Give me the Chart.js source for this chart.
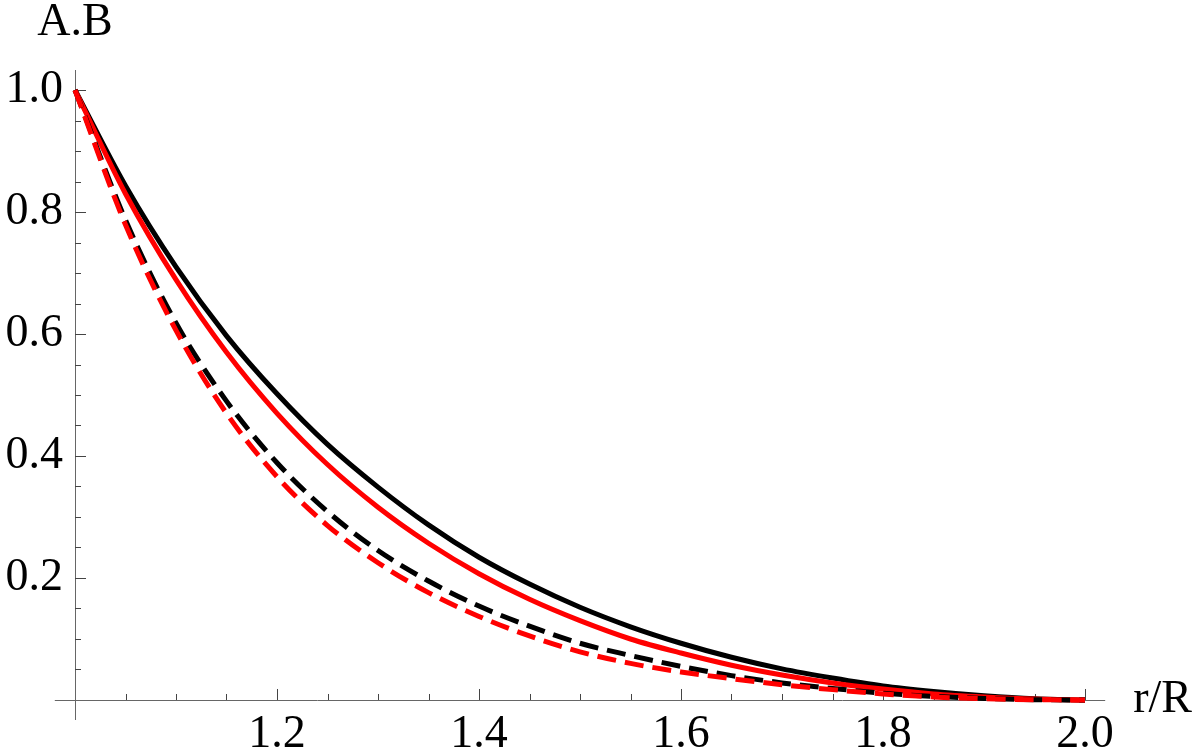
<!DOCTYPE html>
<html>
<head>
<meta charset="utf-8">
<script src="https://cdn.jsdelivr.net/npm/chart.js@4.4.1/dist/chart.umd.min.js"></script>
<style>
html,body{margin:0;padding:0;background:#fff;}
#wrap{width:1200px;height:750px;position:relative;}
canvas{display:block;}
</style>
</head>
<body>
<div id="wrap"><canvas id="c" width="1200" height="750"></canvas></div>
<script>
// ---- data ----
const rValues = [1.00,1.05,1.10,1.15,1.20,1.25,1.30,1.35,1.40,1.45,1.50,1.55,1.60,1.65,1.70,1.75,1.80,1.85,1.90,1.95,2.00];
const blackSolid  = [1.000,0.843,0.710,0.597,0.502,0.419,0.349,0.287,0.234,0.190,0.152,0.120,0.093,0.070,0.051,0.036,0.023,0.014,0.007,0.002,0.000];
const redSolid    = [1.000,0.830,0.689,0.570,0.470,0.386,0.316,0.257,0.207,0.165,0.130,0.100,0.077,0.057,0.041,0.028,0.018,0.010,0.005,0.0015,0.000];
const blackDashed = [1.000,0.787,0.618,0.490,0.389,0.309,0.245,0.195,0.154,0.121,0.093,0.073,0.055,0.040,0.028,0.019,0.011,0.006,0.0025,0.0006,0.000];
const redDashed   = [1.000,0.779,0.606,0.470,0.366,0.286,0.225,0.176,0.137,0.105,0.079,0.060,0.046,0.035,0.025,0.017,0.010,0.005,0.002,0.0005,0.000];

const xMajorTicks = [1.2,1.4,1.6,1.8,2.0];
const xTickLabels = ['1.2','1.4','1.6','1.8','2.0'];
const xMinorTicks = [1.05,1.10,1.15,1.25,1.30,1.35,1.45,1.50,1.55,1.65,1.70,1.75,1.85,1.90,1.95];
const yMajorTicks = [0.2,0.4,0.6,0.8,1.0];
const yTickLabels = ['0.2','0.4','0.6','0.8','1.0'];
const yMinorTicks = [0.05,0.10,0.15,0.25,0.30,0.35,0.45,0.50,0.55,0.65,0.70,0.75,0.85,0.90,0.95];
const xAxisTitle = 'r/R';
const yAxisTitle = 'A.B';

const X_MIN = 0.98, X_MAX = 2.02, Y_MIN = -0.0328, Y_MAX = 1.0328;
const AXIS_X_AT = 1.0, AXIS_Y_AT = 0.0;
const FONT = '"Liberation Serif", "Times New Roman", serif';

function pts(ys){ return rValues.map((r,i)=>({x:r,y:ys[i]})); }

const axesPlugin = {
  id: 'mmaAxes',
  beforeDatasetsDraw(chart){
    const {ctx, chartArea, scales:{x, y}} = chart;
    const x0 = x.getPixelForValue(AXIS_X_AT);
    const y0 = y.getPixelForValue(AXIS_Y_AT);
    ctx.save();
    ctx.strokeStyle = '#666';
    ctx.lineWidth = 1;
    ctx.beginPath();
    ctx.moveTo(Math.round(x0)+0.5, chartArea.top);
    ctx.lineTo(Math.round(x0)+0.5, chartArea.bottom);
    ctx.moveTo(chartArea.left, Math.round(y0)+0.5);
    ctx.lineTo(chartArea.right, Math.round(y0)+0.5);
    ctx.stroke();
    ctx.strokeStyle = '#444';
    ctx.beginPath();
    const tick = (vals, len, horiz) => {
      vals.forEach(v=>{
        if (horiz) {
          const px = Math.round(x.getPixelForValue(v))+0.5;
          ctx.moveTo(px, y0); ctx.lineTo(px, y0 - len);
        } else {
          const py = Math.round(y.getPixelForValue(v))+0.5;
          ctx.moveTo(x0, py); ctx.lineTo(x0 + len, py);
        }
      });
    };
    tick(xMajorTicks, 11, true); tick(xMinorTicks, 6, true);
    tick(yMajorTicks, 11, false); tick(yMinorTicks, 6, false);
    ctx.stroke();
    // tick labels
    ctx.fillStyle = '#000';
    ctx.font = '46px ' + FONT;
    ctx.textAlign = 'center';
    ctx.textBaseline = 'alphabetic';
    xMajorTicks.forEach((v,i)=>{
      ctx.fillText(xTickLabels[i], x.getPixelForValue(v), y0 + 47);
    });
    ctx.textAlign = 'right';
    yMajorTicks.forEach((v,i)=>{
      ctx.fillText(yTickLabels[i], x0 - 12, y.getPixelForValue(v) + 12);
    });
    // axis titles
    ctx.textAlign = 'center';
    ctx.fillText(yAxisTitle, x0, chartArea.top - 35);
    ctx.textAlign = 'left';
    ctx.fillText(xAxisTitle, chartArea.right + 28, y0 + 12);
    ctx.restore();
  }
};

new Chart(document.getElementById('c'), {
  type: 'line',
  data: {
    datasets: [
      {label:'red dashed', data: pts(redDashed), borderColor:'#ff0000', borderWidth:5, borderDash:[19,9], pointRadius:0, cubicInterpolationMode:'monotone', fill:false},
      {label:'black dashed', data: pts(blackDashed), borderColor:'#000000', borderWidth:5, borderDash:[19,9], pointRadius:0, cubicInterpolationMode:'monotone', fill:false},
      {label:'red solid', data: pts(redSolid), borderColor:'#ff0000', borderWidth:5, pointRadius:0, cubicInterpolationMode:'monotone', fill:false},
      {label:'black solid', data: pts(blackSolid), borderColor:'#000000', borderWidth:5, pointRadius:0, cubicInterpolationMode:'monotone', fill:false}
    ]
  },
  options: {
    responsive: false,
    animation: false,
    layout: { padding: { left: 54.8, right: 94.8, top: 70, bottom: 30 } },
    plugins: { legend: {display:false}, tooltip: {enabled:false}, title:{display:false} },
    scales: {
      x: { type:'linear', min:X_MIN, max:X_MAX, display:false },
      y: { type:'linear', min:Y_MIN, max:Y_MAX, display:false }
    }
  },
  plugins: [axesPlugin]
});
</script>
</body>
</html>
